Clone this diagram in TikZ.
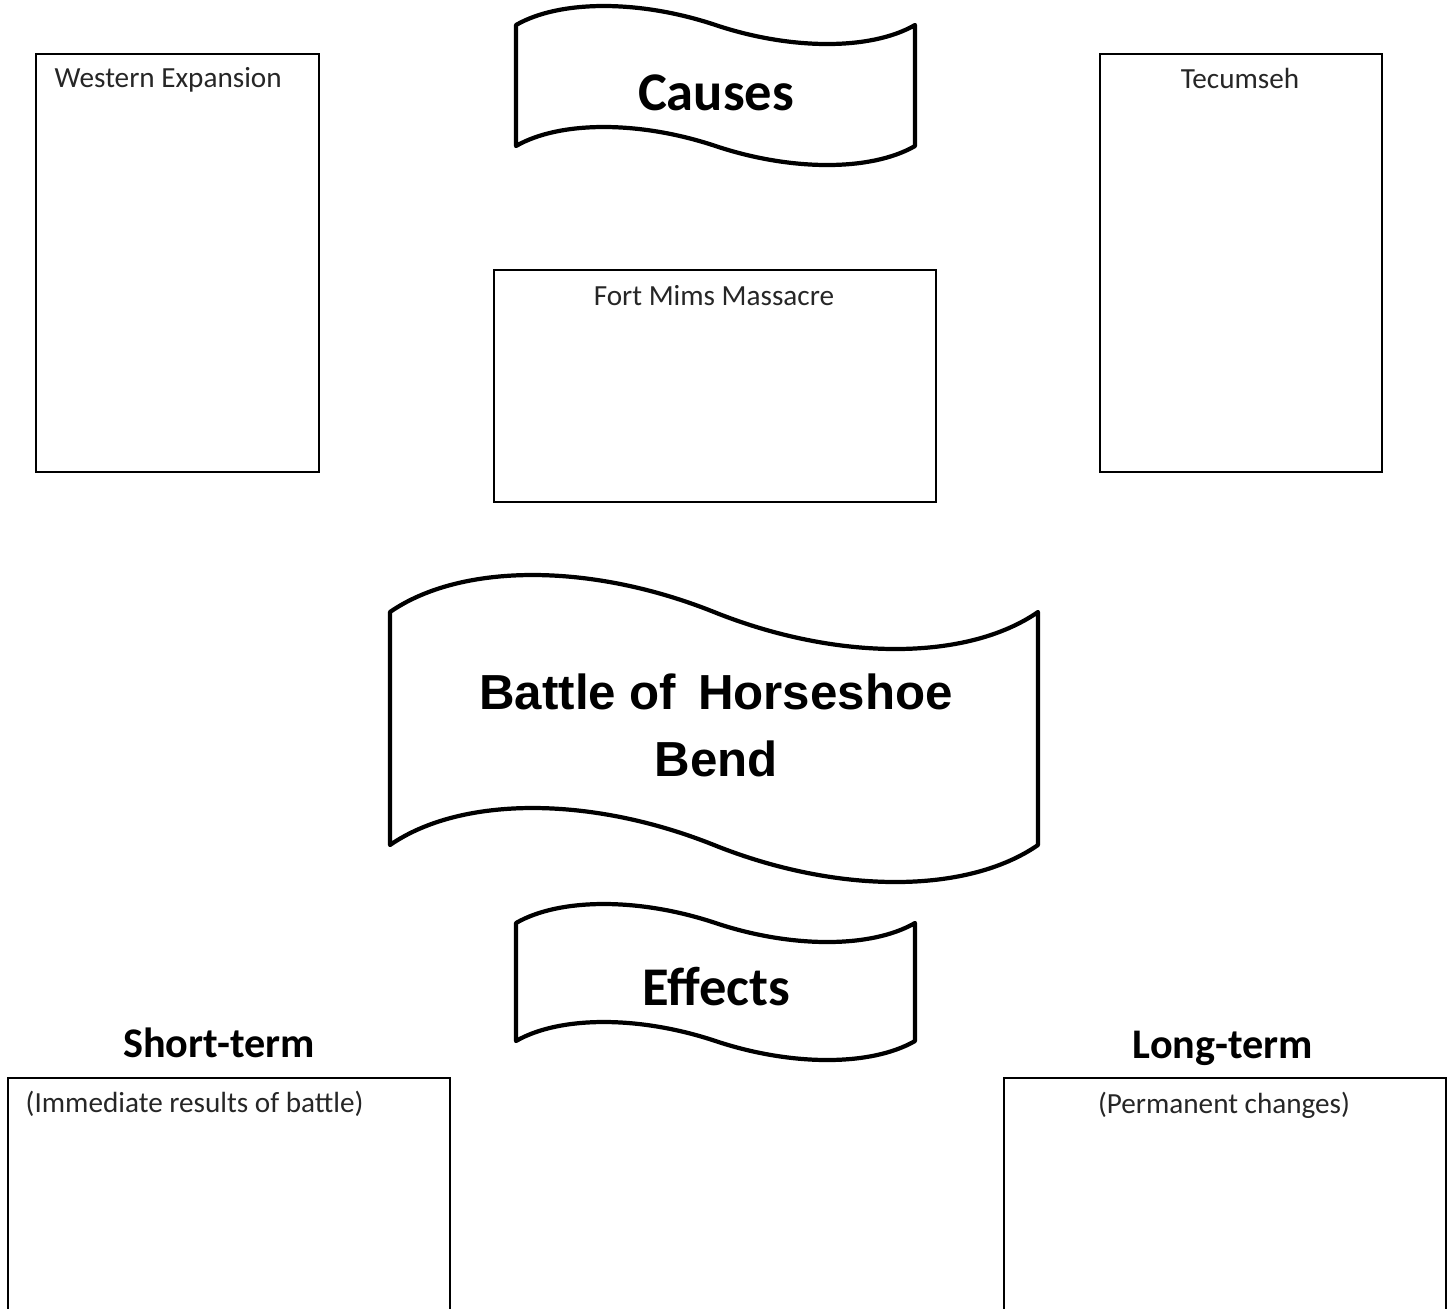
\documentclass[tikz,border=0pt]{standalone}
\usepackage{fontspec}
\setmainfont{Carlito}
\newfontfamily\arialfont{Liberation Sans}
\usetikzlibrary{positioning}

\tikzset{
  box/.style={draw, line width=0.6pt, inner sep=0pt, anchor=north west},
  hint/.style={font=\fontsize{8.3}{10}\selectfont, inner sep=0pt, text=black!85},
  heading/.style={font=\bfseries\fontsize{15.5}{18}\selectfont, inner sep=0pt},
  subheading/.style={font=\bfseries\fontsize{12}{14}\selectfont, inner sep=0pt},
  banner/.style={draw, line width=1.2pt, line join=round}
}

% wavy banner: left x, top y, width, height, amplitude
\newcommand{\wavebanner}[5]{
  \begin{scope}[shift={(#1,#2)}]
    \draw[banner] (0,0)
      .. controls (0.11*#3,-4/3*#5) and (0.31*#3,-4/3*#5) .. (0.5*#3,0)
      .. controls (0.69*#3,4/3*#5) and (0.89*#3,4/3*#5) .. (#3,0)
      -- (#3,#4)
      .. controls (0.89*#3,#4+4/3*#5) and (0.69*#3,#4+4/3*#5) .. (0.5*#3,#4)
      .. controls (0.31*#3,#4-4/3*#5) and (0.11*#3,#4-4/3*#5) .. (0,#4)
      -- cycle;
  \end{scope}
}

\begin{document}
\begin{tikzpicture}[x=0.01cm, y=-0.01cm]
  \useasboundingbox (0,0) rectangle (1454,1308);
  \clip (0,0) rectangle (1454,1308);

  % causes
  \wavebanner{516}{25}{399}{121}{19}
  \node[heading, anchor=base] (causes) at (716,110) {Causes};

  \node[box, minimum width=2.83cm, minimum height=4.18cm] (west) at (35,53) {};
  \node[hint, anchor=base west] (westtxt) at (54,87) {Western Expansion};

  \node[box, minimum width=2.82cm, minimum height=4.18cm] (tecum) at (1099,53) {};
  \node[hint, anchor=base] (tecumtxt) at (1240,88) {Tecumseh};

  \node[box, minimum width=4.42cm, minimum height=2.32cm] (fort) at (493,269) {};
  \node[hint, anchor=base] (forttxt) at (714,305) {Fort Mims Massacre};

  % battle
  \wavebanner{390}{612}{648}{233}{37}
  \node[font=\arialfont\bfseries\fontsize{14}{18.8}\selectfont, align=center,
        anchor=base, inner sep=0pt] (battle) at (716,776)
        {Battle of\, Horseshoe\\Bend};

  % effects
  \wavebanner{516}{923}{399}{118}{19}
  \node[heading, anchor=base] (effects) at (716,1005) {Effects};

  \node[subheading, anchor=base] (short) at (219,1057) {Short-term};
  \node[box, minimum width=4.42cm, minimum height=3cm] (shortbox) at (7,1077) {};
  \node[hint, anchor=base west] (shorttxt) at (25,1112) {(Immediate results of battle)};

  \node[subheading, anchor=base] (long) at (1223,1058) {Long-term};
  \node[box, minimum width=4.42cm, minimum height=3cm] (longbox) at (1003,1077) {};
  \node[hint, anchor=base] (longtxt) at (1224,1113) {(Permanent changes)};
\end{tikzpicture}
\end{document}
